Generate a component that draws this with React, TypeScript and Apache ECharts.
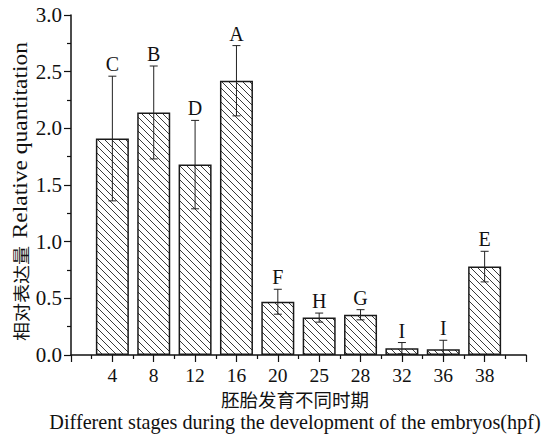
import React, { useEffect, useRef } from "react";
import * as echarts from "echarts";

const stages = ["4", "8", "12", "16", "20", "25", "28", "32", "36", "38"];
const means = [1.91, 2.14, 1.68, 2.42, 0.47, 0.33, 0.355, 0.06, 0.05, 0.78];
const errors = [0.55, 0.41, 0.39, 0.31, 0.11, 0.04, 0.045, 0.05, 0.08, 0.135];
const letters = ["C", "B", "D", "A", "F", "H", "G", "I", "I", "E"];
const yTicks = { min: 0, max: 3, interval: 0.5 };
const yNameCn = "相对表达量";
const yNameEn = "Relative quantitation";
const xNameCn = "胚胎发育不同时期";
const xNameEn = "Different stages during the development of the embryos(hpf)";

const SERIF = "'Liberation Serif', 'Times New Roman', serif";
const CJK = "'Noto Sans CJK SC', sans-serif";

function makeHatch(): HTMLCanvasElement {
  const s = 7;
  const c = document.createElement("canvas");
  c.width = s;
  c.height = s;
  const ctx = c.getContext("2d")!;
  ctx.fillStyle = "#ffffff";
  ctx.fillRect(0, 0, s, s);
  ctx.strokeStyle = "#3a3a3a";
  ctx.lineWidth = 1;
  for (let k = -1; k <= 1; k++) {
    ctx.beginPath();
    ctx.moveTo(k * s, 0);
    ctx.lineTo(k * s + s, s);
    ctx.stroke();
  }
  return c;
}

export default function App() {
  const ref = useRef<HTMLDivElement>(null);
  useEffect(() => {
    if (!ref.current) return;
    const chart = echarts.init(ref.current, undefined, { renderer: "svg" });
    const hatch = makeHatch();
    const barData = means.map((m, i) => [i + 1, m]);
    const errData = means.map((m, i) => [i + 1, m, errors[i]]);
    chart.setOption({
      animation: false,
      backgroundColor: "#ffffff",
      grid: { left: 71, right: 20, top: 15, bottom: 81, outerBoundsMode: "none", containLabel: false },
      graphic: [
        {
          type: "text",
          x: 20,
          y: 191.5,
          rotation: Math.PI / 2,
          scaleX: 1.12,
          style: {
            text: `{c|${yNameCn}}  {e|${yNameEn}}`,
            align: "center",
            verticalAlign: "middle",
            rich: {
              c: { fontFamily: CJK, fontSize: 17, fill: "#111" },
              e: { fontFamily: SERIF, fontSize: 21, fill: "#111" },
            },
          },
        },
      ],
      xAxis: {
        type: "value",
        min: 0,
        max: 11,
        interval: 1,
        splitLine: { show: false },
        axisLine: { show: true, lineStyle: { color: "#111", width: 1.5 } },
        axisTick: { show: true, length: 7, lineStyle: { color: "#111", width: 1.2 } },
        minorTick: { show: true, splitNumber: 2, length: 4, lineStyle: { color: "#111", width: 1.2 } },
        minorSplitLine: { show: false },
        axisLabel: {
          margin: 11,
          color: "#111",
          fontFamily: SERIF,
          fontSize: 19.5,
          lineHeight: 18,
          formatter: (v: number) => (v >= 1 && v <= stages.length ? stages[v - 1] : ""),
        },
        name: `{a|${xNameCn}}\n{b|${xNameEn}}`,
        nameLocation: "middle",
        nameGap: 34,
        nameMoveOverlap: false,
        nameTextStyle: {
          padding: [0, 7, 0, 0],
          rich: {
            a: { fontFamily: CJK, fontSize: 18.5, lineHeight: 20, color: "#111" },
            b: { fontFamily: SERIF, fontSize: 20.2, lineHeight: 25, color: "#111" },
          },
        },
      },
      yAxis: {
        type: "value",
        min: yTicks.min,
        max: yTicks.max,
        interval: yTicks.interval,
        splitLine: { show: false },
        axisLine: { show: true, lineStyle: { color: "#111", width: 1.5 } },
        axisTick: { show: true, length: 7, lineStyle: { color: "#111", width: 1.2 } },
        minorTick: { show: true, splitNumber: 2, length: 4, lineStyle: { color: "#111", width: 1.2 } },
        axisLabel: {
          margin: 9,
          color: "#111",
          fontFamily: SERIF,
          fontSize: 21,
          formatter: (v: number) => v.toFixed(1),
        },
      },
      series: [
        {
          type: "bar",
          data: barData,
          barWidth: 33,
          itemStyle: {
            color: { image: hatch, repeat: "repeat" },
            borderColor: "#1a1a1a",
            borderWidth: 1.5,
          },
        },
        {
          type: "custom",
          data: errData,
          z: 5,
          renderItem: (params: any, api: any) => {
            const x = api.value(0);
            const m = api.value(1);
            const e = api.value(2);
            const i = params.dataIndex;
            const top = api.coord([x, m + e]);
            const bot = api.coord([x, Math.max(0, m - e)]);
            const hw = 4;
            const ls = { stroke: "#222", lineWidth: 1 };
            return {
              type: "group",
              children: [
                { type: "line", shape: { x1: top[0], y1: top[1], x2: bot[0], y2: bot[1] }, style: ls },
                { type: "line", shape: { x1: top[0] - hw, y1: top[1], x2: top[0] + hw, y2: top[1] }, style: ls },
                { type: "line", shape: { x1: bot[0] - hw, y1: bot[1], x2: bot[0] + hw, y2: bot[1] }, style: ls },
                {
                  type: "text",
                  x: top[0],
                  y: top[1] - 2,
                  style: {
                    text: letters[i],
                    fontFamily: SERIF,
                    fontSize: 20,
                    fill: "#111",
                    align: "center",
                    verticalAlign: "bottom",
                  },
                },
              ],
            };
          },
        },
      ],
    });
    return () => chart.dispose();
  }, []);
  return (
    <div
      ref={ref}
      style={{ position: "fixed", left: 0, top: 0, width: 546, height: 436, background: "#fff" }}
    />
  );
}
